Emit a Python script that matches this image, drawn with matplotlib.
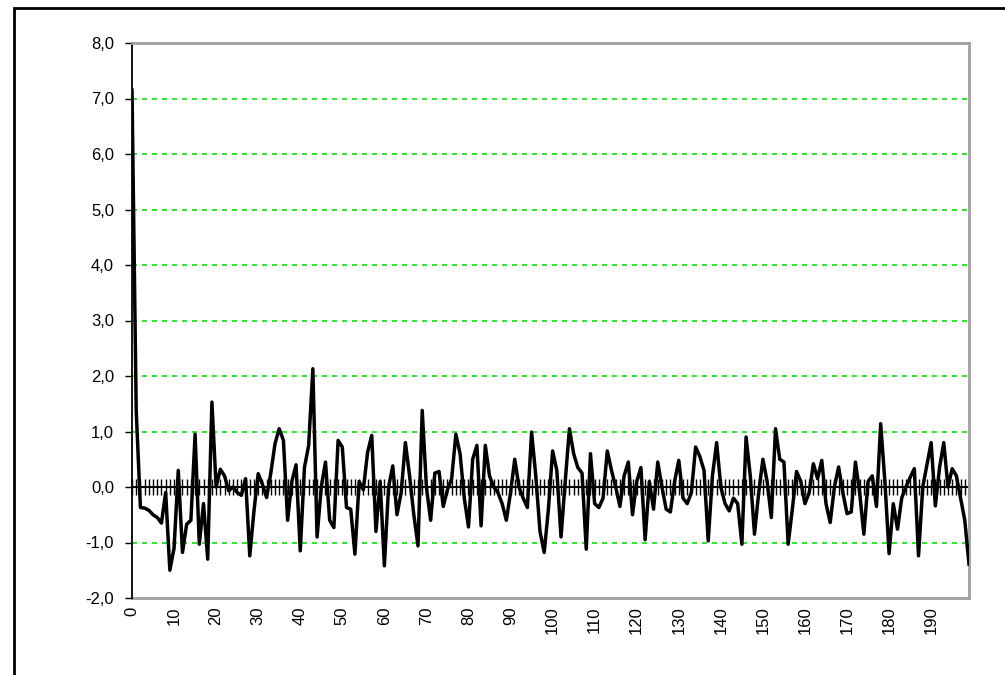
import matplotlib
matplotlib.use("Agg")
import matplotlib.pyplot as plt
from matplotlib.patches import Rectangle
from matplotlib.ticker import FixedLocator, FuncFormatter, MultipleLocator

# values, one per category 0..199
values = [
    7.15, 1.38, -0.37, -0.38, -0.42, -0.50, -0.55, -0.65, -0.10, -1.50,
    -1.10, 0.30, -1.18, -0.67, -0.60, 0.95, -1.03, -0.30, -1.30, 1.53,
    0.00, 0.32, 0.20, -0.07, 0.00, -0.10, -0.15, 0.15, -1.24, -0.43,
    0.24, 0.05, -0.19, 0.25, 0.78, 1.05, 0.84, -0.60, 0.10, 0.40,
    -1.15, 0.35, 0.75, 2.13, -0.90, 0.00, 0.45, -0.60, -0.73, 0.84,
    0.72, -0.37, -0.40, -1.21, 0.10, -0.05, 0.62, 0.93, -0.80, 0.10,
    -1.42, 0.00, 0.38, -0.50, -0.10, 0.80, 0.20, -0.50, -1.06, 1.38,
    0.00, -0.60, 0.25, 0.28, -0.35, -0.05, 0.15, 0.95, 0.60, -0.20,
    -0.72, 0.50, 0.75, -0.70, 0.75, 0.20, 0.00, -0.10, -0.30, -0.60,
    -0.10, 0.50, 0.00, -0.20, -0.37, 0.99, 0.20, -0.80, -1.18, -0.40,
    0.65, 0.30, -0.90, 0.10, 1.05, 0.60, 0.35, 0.25, -1.12, 0.60,
    -0.30, -0.37, -0.20, 0.65, 0.30, 0.00, -0.35, 0.20, 0.45, -0.50,
    0.10, 0.35, -0.95, 0.10, -0.40, 0.45, 0.00, -0.40, -0.45, 0.10,
    0.48, -0.20, -0.30, -0.10, 0.72, 0.55, 0.30, -0.97, 0.20, 0.80,
    0.00, -0.30, -0.43, -0.20, -0.30, -1.03, 0.90, 0.20, -0.85, -0.10,
    0.50, 0.10, -0.55, 1.05, 0.50, 0.45, -1.03, -0.40, 0.28, 0.10,
    -0.30, -0.10, 0.42, 0.15, 0.48, -0.30, -0.64, 0.00, 0.36, -0.10,
    -0.48, -0.45, 0.45, -0.10, -0.85, 0.10, 0.20, -0.35, 1.14, 0.10,
    -1.20, -0.30, -0.76, -0.20, 0.00, 0.17, 0.33, -1.24, 0.00, 0.40,
    0.80, -0.34, 0.35, 0.80, 0.00, 0.33, 0.20, -0.20, -0.60, -1.39,
]
categories = list(range(len(values)))
label_cats = list(range(0, 200, 10))
y_min, y_max = -2.0, 8.0
grid_levels = [-1, 1, 2, 3, 4, 5, 6, 7]

plt.rcParams['font.family'] = ['Liberation Sans', 'DejaVu Sans']

fig = plt.figure(figsize=(10.05, 6.75), dpi=100)
fig.patches.append(Rectangle((14 / 1005, -0.1), 1.2, 1 - 8 / 675 + 0.1,
                             transform=fig.transFigure, fill=False,
                             edgecolor='black', linewidth=2))

ax = fig.add_axes([132 / 1005, 1 - 598 / 675, 837 / 1005, 555 / 675])
for lvl in grid_levels:
    ax.axhline(lvl, color='#00e600', linestyle=(0, (3, 3)), linewidth=1.2,
               zorder=1)
ax.plot(categories, values, color='black', linewidth=2.5, zorder=3)

ax.set_xlim(0, categories[-1])
ax.set_ylim(y_min, y_max)

# category axis crosses at zero, with a cross tick at every category
ax.spines['bottom'].set_position(('data', 0))
ax.spines['bottom'].set_color('black')
ax.spines['bottom'].set_linewidth(1.5)
ax.spines['bottom'].set_zorder(2)
ax.xaxis.set_major_locator(FixedLocator(categories))
ax.tick_params(axis='x', direction='inout', length=11, width=1.0,
               labelbottom=False, color='black')

for side in ('top', 'right'):
    ax.spines[side].set_color('#a0a0a0')
    ax.spines[side].set_linewidth(2)
ax.spines['left'].set_color('black')
ax.spines['left'].set_linewidth(1.3)

ax.yaxis.set_major_locator(MultipleLocator(1))
ax.yaxis.set_major_formatter(
    FuncFormatter(lambda v, _: f"{v:.1f}".replace('.', ',')))
ax.tick_params(axis='y', direction='out', length=5, width=1.0,
               labelsize=12, pad=8)

# labels sit low, under the plot area
low = ax.secondary_xaxis('bottom')
low.spines['bottom'].set_color('#a0a0a0')
low.spines['bottom'].set_linewidth(2)
low.set_xticks(label_cats)
low.set_xticklabels([str(c) for c in label_cats], rotation=90, fontsize=12)
low.tick_params(axis='x', length=0, pad=6)

fig.savefig('out.png', dpi=100)
